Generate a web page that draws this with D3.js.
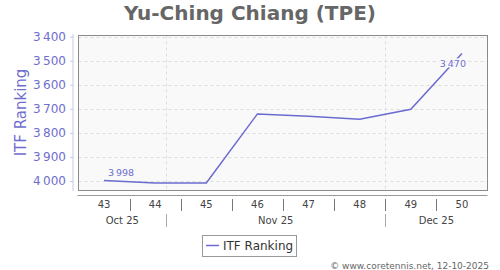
<!DOCTYPE html>
<html><head><meta charset="utf-8">
<script src="https://cdn.jsdelivr.net/npm/d3@7"></script>
<style>body{margin:0;background:#fff}svg{display:block;font-family:"DejaVu Sans",sans-serif}</style>
</head><body><svg id="c" width="500" height="270"></svg>
<script>
const weeks = ["43","44","45","46","47","48","49","50"];
const weekStarts = ["2025-10-20","2025-10-27","2025-11-03","2025-11-10","2025-11-17","2025-11-24","2025-12-01","2025-12-08"];
const ranking = [3998, 4008, 4008, 3721, 3731, 3743, 3702, 3470];
const months = ["Oct 25","Nov 25","Dec 25"];
const monthStarts = ["2025-10-01","2025-11-01","2025-12-01","2026-01-01"];
const yTicks = [3400,3500,3600,3700,3800,3900,4000];
const rangeEnd = "2025-12-15";

const P = d3.timeParse("%Y-%m-%d");
const svg = d3.select("#c");
const L=78.5, R=487.5, T=35.5, B=190.5;
const lineColor = "#6b6bd0", labColor = "#6e6ecf";
const x = d3.scaleTime().domain([P(weekStarts[0]), P(rangeEnd)]).range([L,R]);
const y = d3.scaleLinear().domain([3400,4000]).range([36.7,181]);
const mid = d => d3.timeHour.offset(P(d), 84);
const fmt = v => d3.format(",")(v).replace(",", "\u2009");

// title
svg.append("text").attr("x",250).attr("y",20).attr("text-anchor","middle")
  .attr("font-size",20).attr("font-weight","bold").attr("fill","#666").text("Yu-Ching Chiang (TPE)");

// plot bg
svg.append("rect").attr("x",L).attr("y",T).attr("width",R-L).attr("height",B-T).attr("fill","#f9f9f9");
// grid
svg.append("g").selectAll("line").data(yTicks).join("line")
  .attr("x1",L).attr("x2",R).attr("y1",d=>Math.round(y(d))+0.5).attr("y2",d=>Math.round(y(d))+0.5)
  .attr("stroke","#dcdcdc").attr("stroke-dasharray","3,3");
const innerMonths = monthStarts.slice(1,3).map(P);
svg.append("g").selectAll("line").data(innerMonths).join("line")
  .attr("x1",d=>Math.round(x(d))+0.5).attr("x2",d=>Math.round(x(d))+0.5).attr("y1",T).attr("y2",B)
  .attr("stroke","#dcdcdc").attr("stroke-dasharray","3,3");
svg.append("rect").attr("x",L).attr("y",T).attr("width",R-L).attr("height",B-T).attr("fill","none").attr("stroke","#8a8a8a");

// y axis
const ya = svg.append("g").attr("transform","translate(73,0)")
  .call(d3.axisLeft(y).tickValues(yTicks).tickFormat(fmt).tickSize(3).tickPadding(4));
ya.select(".domain").attr("stroke","#c8c8e6").attr("d","M0,34V191");
ya.selectAll(".tick line").attr("stroke","#c8c8e6");
ya.selectAll("text").attr("fill",labColor).attr("font-size",12).attr("font-family","DejaVu Sans");
svg.append("text").attr("transform","translate(26,112.5) rotate(-90)").attr("text-anchor","middle")
  .attr("font-size",15).attr("fill",labColor).text("ITF Ranking");

// x axis
svg.append("line").attr("x1",L-1).attr("x2",R).attr("y1",195.5).attr("y2",195.5).attr("stroke","#999");
svg.append("g").selectAll("line").data(weekStarts.slice(1)).join("line")
  .attr("x1",d=>Math.round(x(P(d)))+0.5).attr("x2",d=>Math.round(x(P(d)))+0.5).attr("y1",199).attr("y2",211)
  .attr("stroke","#777");
svg.append("g").selectAll("text").data(weeks).join("text")
  .attr("x",(d,i)=>x(mid(weekStarts[i]))).attr("y",208).attr("text-anchor","middle")
  .attr("font-size",10).attr("fill","#444").text(d=>d);
svg.append("g").selectAll("line").data(innerMonths).join("line")
  .attr("x1",d=>Math.round(x(d))+0.5).attr("x2",d=>Math.round(x(d))+0.5).attr("y1",214).attr("y2",227)
  .attr("stroke","#aaa");
svg.append("g").selectAll("text").data(months).join("text")
  .attr("x",(d,i)=>{const a=Math.max(x(P(monthStarts[i])),L), b=Math.min(x(P(monthStarts[i+1])),R); return (a+b)/2;})
  .attr("y",224).attr("text-anchor","middle").attr("font-size",10).attr("fill","#444").text(d=>d);

// line
const pts = ranking.map((v,i)=>[x(mid(weekStarts[i])), y(v)]);
svg.append("path").attr("d",d3.line()(pts)).attr("fill","none").attr("stroke",lineColor).attr("stroke-width",1.5);

// data labels (first & last)
const labelIdx = [0, ranking.length-1];
svg.append("g").selectAll("text").data(labelIdx).join("text")
  .attr("x",i=>i===0?pts[i][0]+4:pts[i][0]+4)
  .attr("y",i=>i===0?pts[i][1]-5:pts[i][1]+13)
  .attr("text-anchor",i=>i===0?"start":"end")
  .attr("font-size",9.5).attr("fill",labColor)
  .attr("stroke","#f9f9f9").attr("stroke-width",3).attr("paint-order","stroke")
  .text(i=>fmt(ranking[i]));

// legend
svg.append("rect").attr("x",202.5).attr("y",235.5).attr("width",94).attr("height",21).attr("fill","#fff").attr("stroke","#999");
svg.append("line").attr("x1",206).attr("x2",219).attr("y1",245.5).attr("y2",245.5).attr("stroke",lineColor).attr("stroke-width",1.5);
svg.append("text").attr("x",223).attr("y",250).attr("font-size",12).attr("fill","#333").text("ITF Ranking");

// credits
svg.append("text").attr("x",489).attr("y",269).attr("text-anchor","end").attr("font-size",9).attr("fill","#666")
  .text("\u00a9 www.coretennis.net, 12-10-2025");
</script></body></html>
